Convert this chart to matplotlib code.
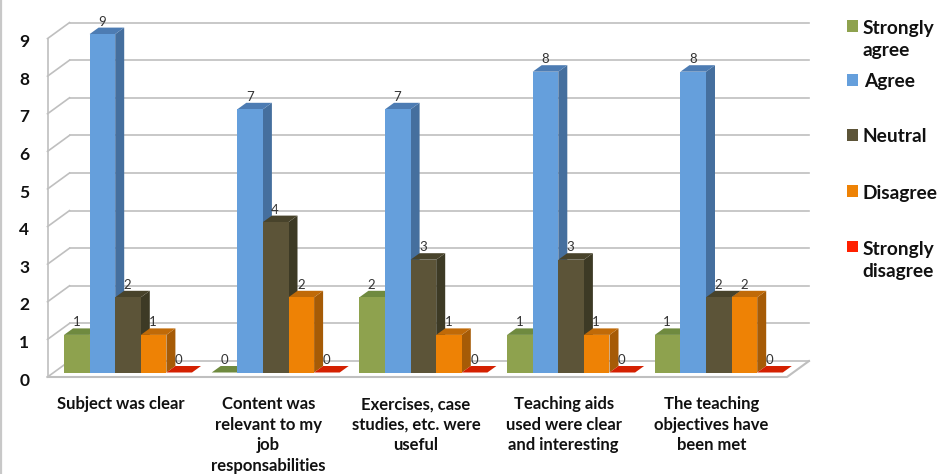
import matplotlib
matplotlib.use("Agg")
import matplotlib.pyplot as plt
from matplotlib.patches import Polygon, Rectangle
from matplotlib.lines import Line2D
from matplotlib.transforms import ScaledTranslation

categories = ["Subject was clear",
              "Content was\nrelevant to my\njob\nresponsabilities",
              "Exercises, case\nstudies, etc. were\nuseful",
              "Teaching aids\nused were clear\nand interesting",
              "The teaching\nobjectives have\nbeen met"]
strongly_agree = [1, 0, 2, 1, 1]
agree = [9, 7, 7, 8, 8]
neutral = [2, 4, 3, 3, 2]
disagree = [1, 2, 1, 1, 2]
strongly_disagree = [0, 0, 0, 0, 0]
series_names = ["Strongly\nagree", "Agree", "Neutral", "Disagree", "Strongly\ndisagree"]
y_ticks = list(range(10))

series = [strongly_agree, agree, neutral, disagree, strongly_disagree]
front = ["#8ea24e", "#659fdc", "#5c5438", "#ee8205", "#ff2000"]
side = ["#6b8239", "#456f9e", "#3d3a25", "#a65b06", "#b81c00"]
top = ["#6f8a3f", "#4d7cb3", "#48432b", "#c06a08", "#d42000"]
legend_colors = ["#8ea24e", "#659fdc", "#5c5438", "#ee8205", "#ff2000"]

W, H = 941, 474
GROUP = 147.7      # px per category
UNIT = 37.6        # px per value
FONT = "Lato"

fig = plt.figure(figsize=(W / 100, H / 100), dpi=100, facecolor="white")
left_px, right_px, base_py = 47.5, 787.0, 372.5
top_py = base_py - 9 * UNIT
ax = fig.add_axes([left_px / W, 1 - base_py / H, (right_px - left_px) / W, (base_py - top_py) / H])
c0 = 128.0
ax.set_xlim((left_px - c0) / GROUP, (right_px - c0) / GROUP)
ax.set_ylim(0, 9)
ax.patch.set_visible(False)
for s in ax.spines.values():
    s.set_visible(False)

px = 1 / GROUP
py = 1 / UNIT
floor = -4.5 * py
x_l, x_r = ax.get_xlim()
wall_dx, wall_dy = 22 * px, 16 * py
grid_c = "#bfbfbf"
lw = 1.2

# walls and gridlines
for v in y_ticks:
    ax.plot([x_l + wall_dx, x_r + wall_dx], [floor + wall_dy + v] * 2, color=grid_c, lw=lw, clip_on=False, zorder=1)
    ax.plot([x_l, x_l + wall_dx], [floor + v, floor + v + wall_dy], color=grid_c, lw=lw, clip_on=False, zorder=1)
ax.plot([x_l, x_l], [floor, floor + 9], color=grid_c, lw=lw, clip_on=False, zorder=1)
ax.plot([x_l, x_r, x_r + wall_dx], [floor, floor, floor + wall_dy], color=grid_c, lw=1.5, clip_on=False, zorder=1)

# bars
bw = 25.6 * px
dx, dy = 9 * px, 6.5 * py
z = 2
for g in range(len(categories)):
    for k, vals in enumerate(series):
        v = vals[g]
        x0 = g + (k - 2.5) * bw
        x1 = x0 + bw
        if v > 0:
            ax.add_patch(Polygon([(x1, 0), (x1 + dx, dy), (x1 + dx, v + dy), (x1, v)], fc=side[k], ec="none", zorder=z, clip_on=False))
        ax.add_patch(Polygon([(x0, v), (x1, v), (x1 + dx, v + dy), (x0 + dx, v + dy)], fc=top[k], ec="none", zorder=z, clip_on=False))
        if v > 0:
            ax.bar(x0, v, width=bw, align="edge", color=front[k], zorder=z + 0.5, clip_on=False)
        z += 1

for g in range(len(categories)):
    for k, vals in enumerate(series):
        v = vals[g]
        x0 = g + (k - 2.5) * bw
        ax.text(x0 + bw / 2 - 0.5 * px, v + 12.5 * py, str(v), ha="center", va="center", fontsize=9.5,
                family=FONT, color="#333333", zorder=100, clip_on=False)

# axis labels
ax.set_yticks(y_ticks)
ax.set_yticklabels([str(v) for v in y_ticks], fontsize=12.5, fontweight="bold", family=FONT, color="#111111")
ax.tick_params(axis="y", length=0, pad=13)
off = ScaledTranslation(0, -6.5 / 100, fig.dpi_scale_trans)
for lab in ax.get_yticklabels():
    lab.set_transform(lab.get_transform() + off)

ax.set_xticks([i - 7.5 * px for i in range(len(categories))])
ax.set_xticklabels(categories, fontsize=12, fontweight="bold", family=FONT, color="#111111", linespacing=1.35, ha="center")
ax.tick_params(axis="x", length=0, pad=17)

# legend
leg_y = [26, 80, 135, 191, 246]
txt_y = [39.5, 82, 137, 193, 260.5]
for name, c, sy, ty in zip(series_names, legend_colors, leg_y, txt_y):
    fig.add_artist(Rectangle((847 / W, 1 - (sy + 5.5) / H), 11 / W, 11 / H, transform=fig.transFigure, fc=c, ec="none"))
    fig.text((862.5 if name != "Agree" else 864) / W, 1 - ty / H, name, ha="left", va="center", fontsize=13.8, fontweight="bold",
             family=FONT, color="#111111", linespacing=1.35)

# image border at left
fig.add_artist(Line2D([1 / W, 1 / W], [0, 1], transform=fig.transFigure, color="#c8c8c8", lw=1.6))

fig.savefig("out.png", dpi=100, facecolor="white")
